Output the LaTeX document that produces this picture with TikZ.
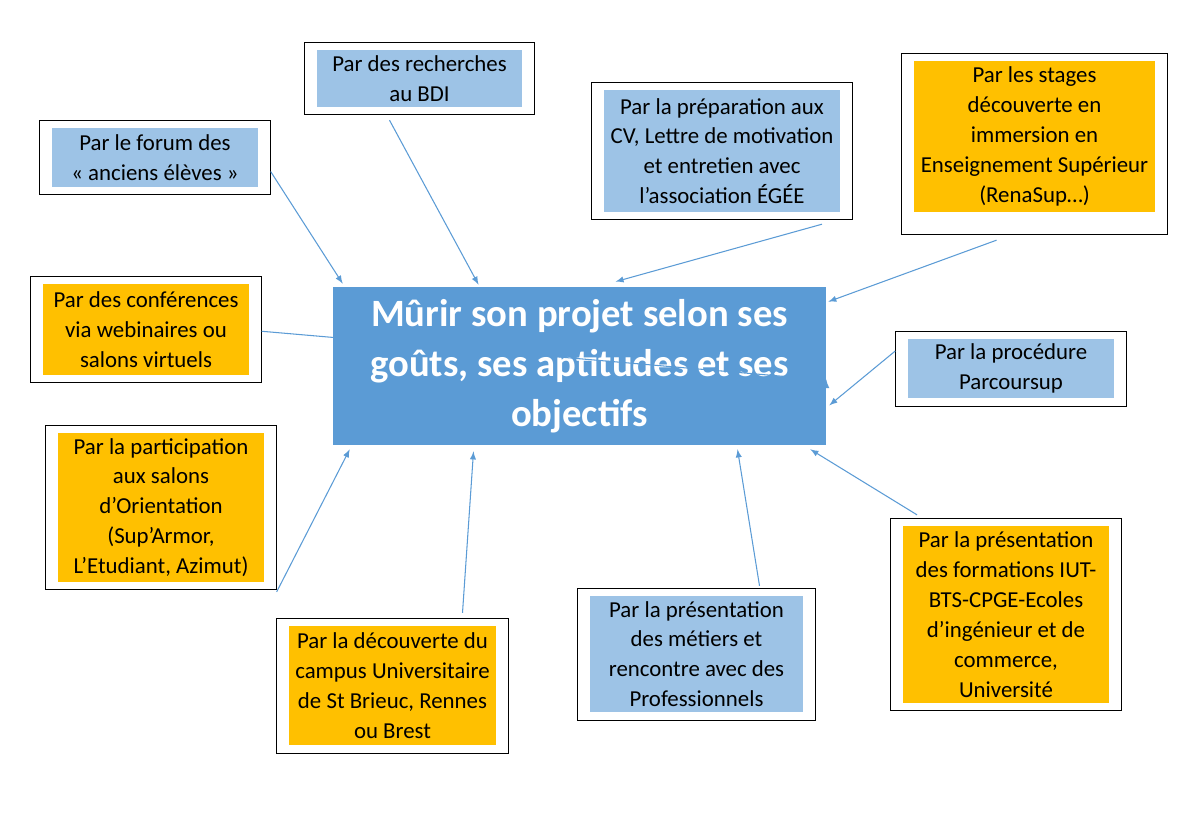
\documentclass[tikz,border=0pt]{standalone}
\usepackage{fontspec}
\setmainfont{Carlito}
\usetikzlibrary{fit}
\definecolor{mainblue}{HTML}{5B9BD5}
\definecolor{lightblue}{HTML}{9DC3E6}
\definecolor{gold}{HTML}{FFC000}
\begin{document}
\begin{tikzpicture}[x=0.02cm,y=-0.02cm]
\tikzset{
  item/.style={inner sep=0pt, align=center, font=\fontsize{13}{17}\selectfont},
  bluebox/.style={item, fill=lightblue},
  goldbox/.style={item, fill=gold},
  frame/.style={draw=black, inner xsep=0.24cm, inner ysep=0.15cm},
  link/.style={draw=mainblue, line width=0.6pt, -latex}
}
\useasboundingbox (0,0) rectangle (1199,815);
% centre
\node[fill=mainblue, text=white, align=center, minimum width=9.86cm, minimum height=3.16cm,
  font=\fontsize{22}{28.5}\selectfont\bfseries] (main) at (579.5,366)
  {Mûrir son projet selon ses\\goûts, ses aptitudes et ses\\objectifs};
% items
\node[bluebox, minimum width=4.12cm, minimum height=1.18cm] (forum) at (155,157.5)
  {Par le forum des\\« anciens élèves »};
\node[bluebox, minimum width=4.1cm, minimum height=1.14cm] (rech) at (419.5,78.5)
  {Par des recherches\\au BDI};
\node[bluebox, minimum width=4.72cm, minimum height=2.44cm] (prep) at (722,151)
  {Par la préparation aux\\CV, Lettre de motivation\\et entretien avec\\l’association ÉGÉE};
\node[goldbox, minimum width=4.82cm, minimum height=3.02cm] (stages) at (1034.5,136.5)
  {Par les stages\\découverte en\\immersion en\\Enseignement Supérieur\\(RenaSup…)};
\node[goldbox, minimum width=4.12cm, minimum height=1.82cm] (conf) at (146,329.5)
  {Par des conférences\\via webinaires ou\\salons virtuels};
\node[bluebox, minimum width=4.12cm, minimum height=1.18cm] (psup) at (1011,368.5)
  {Par la procédure\\Parcoursup};
\node[goldbox, minimum width=4.12cm, minimum height=2.98cm] (salons) at (161,507.5)
  {Par la participation\\aux salons\\d’Orientation\\(Sup’Armor,\\L’Etudiant, Azimut)};
\node[goldbox, minimum width=4.14cm, minimum height=2.38cm] (campus) at (392.5,685.5)
  {Par la découverte du\\campus Universitaire\\de St Brieuc, Rennes\\ou Brest};
\node[bluebox, minimum width=4.26cm, minimum height=2.32cm] (metiers) at (696.5,654)
  {Par la présentation\\des métiers et\\rencontre avec des\\Professionnels};
\node[goldbox, minimum width=4.12cm, minimum height=3.54cm] (form) at (1006,614.5)
  {Par la présentation\\des formations IUT-\\BTS-CPGE-Ecoles\\d’ingénieur et de\\commerce,\\Université};
% frames
\foreach \n in {forum,rech,prep,conf,psup,salons,campus,metiers,form}
  \node[frame, fit=(\n)] (\n-f) {};
\node[frame, inner ysep=0.3cm, yshift=-0.15cm, fit=(stages)] (stages-f) {};
% links
\draw[link] ([yshift=-8]forum-f.east) -- ([shift={(10,-3)}]main.north west);
\draw[link] ([shift={(-30,5)}]rech-f.south) -- ([shift={(-101,-2)}]main.north);
\draw[link] ([shift={(100,4)}]prep-f.south) -- ([shift={(36,-5)}]main.north);
\draw[link] ([shift={(-38,5)}]stages-f.south) -- ([shift={(2,15)}]main.north east);
\draw[link] ([yshift=-1]conf-f.east) -- ([yshift=-8]main.east |- main.west) ++(0,0);
\draw[link] ([yshift=10]psup-f.west) -- ([shift={(3,-40)}]main.south east);
\draw[link] ([yshift=-48]salons-f.east) -- ([shift={(17,4)}]main.south west);
\draw[link] ([shift={(70,-5)}]campus-f.north) -- ([shift={(-106,6)}]main.south);
\draw[link] ([shift={(63,-2)}]metiers-f.north) -- ([shift={(158,4)}]main.south);
\draw[link] ([shift={(-89,-3)}]form-f.north) -- ([shift={(-16,4)}]main.south east);
\end{tikzpicture}
\end{document}
